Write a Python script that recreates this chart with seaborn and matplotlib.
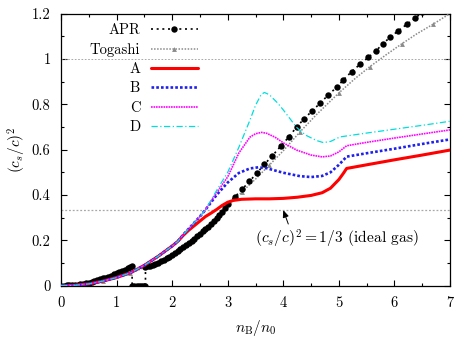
import matplotlib
matplotlib.use("Agg")
import matplotlib.pyplot as plt
from matplotlib.ticker import AutoMinorLocator, FixedLocator, FixedFormatter
import numpy as np
import pandas as pd
import seaborn as sns

# ---------------- data ----------------
apr_x = [0.00, 0.05, 0.10, 0.15, 0.20, 0.25, 0.30, 0.35, 0.40, 0.45, 0.50, 0.55, 0.60,
         0.65, 0.70, 0.75, 0.80, 0.85, 0.90, 0.95, 1.00, 1.05, 1.10, 1.15, 1.20, 1.25,
         1.28, 1.28, 1.32, 1.36, 1.40, 1.44, 1.48, 1.52, 1.52,
         1.56, 1.60, 1.65, 1.70, 1.75, 1.80, 1.85, 1.90, 1.95, 2.00, 2.05, 2.10, 2.15,
         2.20, 2.25, 2.30, 2.35, 2.40, 2.45, 2.50, 2.55, 2.60, 2.65, 2.70, 2.75, 2.80,
         2.85, 2.90, 2.95, 3.00, 3.13, 3.26, 3.39, 3.52, 3.66, 3.80, 3.95, 4.10, 4.24,
         4.38, 4.52, 4.66, 4.81, 4.96, 5.08, 5.23, 5.38, 5.53, 5.67, 5.79, 5.92, 6.07,
         6.22, 6.37, 6.50]
apr_y = [0.000, 0.000, 0.001, 0.001, 0.002, 0.003, 0.005, 0.006, 0.008, 0.011, 0.014, 0.017,
         0.020, 0.024, 0.028, 0.032, 0.036, 0.040, 0.045, 0.050, 0.055, 0.060, 0.066, 0.071,
         0.077, 0.083, 0.086, 0.000, 0.000, 0.000, 0.000, 0.000, 0.000, 0.000, 0.082,
         0.085, 0.088, 0.092, 0.097, 0.102, 0.108, 0.114, 0.120, 0.127, 0.135, 0.143, 0.152,
         0.161, 0.170, 0.179, 0.188, 0.197, 0.207, 0.217, 0.228, 0.239, 0.250, 0.261, 0.273,
         0.285, 0.297, 0.311, 0.327, 0.343, 0.360, 0.392, 0.425, 0.460, 0.495, 0.535, 0.572,
         0.614, 0.656, 0.700, 0.737, 0.771, 0.804, 0.841, 0.875, 0.907, 0.944, 0.976, 1.007,
         1.036, 1.066, 1.095, 1.124, 1.152, 1.179, 1.205]

tog_x = [0.00, 0.25, 0.50, 0.75, 1.00, 1.25, 1.50, 1.75, 2.00, 2.25, 2.50, 2.75, 3.00, 3.25,
         3.50, 3.75, 4.00, 4.30, 4.60, 5.00, 5.30, 5.56, 5.85, 6.13, 6.40, 6.69, 7.00]
tog_y = [0.000, 0.003, 0.009, 0.020, 0.035, 0.055, 0.080, 0.105, 0.135, 0.178, 0.228, 0.288,
         0.355, 0.412, 0.470, 0.532, 0.595, 0.678, 0.755, 0.850, 0.915, 0.966, 1.018, 1.066,
         1.110, 1.152, 1.200]

a_x = [0.00, 0.25, 0.50, 0.75, 1.00, 1.25, 1.50, 1.75, 2.00, 2.10, 2.20, 2.30, 2.40, 2.50,
       2.60, 2.70, 2.80, 2.90, 3.00, 3.10, 3.25, 3.50, 3.75, 4.00, 4.25, 4.50, 4.70, 4.85,
       5.00, 5.08, 5.14, 5.50, 6.00, 6.50, 7.00]
a_y = [0.000, 0.002, 0.008, 0.020, 0.036, 0.057, 0.090, 0.130, 0.175, 0.195, 0.222, 0.245,
       0.265, 0.285, 0.305, 0.320, 0.336, 0.354, 0.368, 0.376, 0.381, 0.383, 0.383, 0.385,
       0.390, 0.398, 0.410, 0.430, 0.468, 0.495, 0.517, 0.533, 0.555, 0.576, 0.598]

b_x = [0.00, 0.25, 0.50, 0.75, 1.00, 1.25, 1.50, 1.75, 2.00, 2.10, 2.20, 2.35, 2.50, 2.60,
       2.80, 3.00, 3.20, 3.40, 3.55, 3.70, 4.00, 4.30, 4.50, 4.70, 4.85, 5.00, 5.14, 5.50,
       6.00, 6.50, 7.00]
b_y = [0.000, 0.002, 0.008, 0.020, 0.036, 0.057, 0.090, 0.130, 0.175, 0.195, 0.225, 0.265,
       0.305, 0.335, 0.400, 0.455, 0.497, 0.517, 0.522, 0.518, 0.498, 0.483, 0.479, 0.484,
       0.500, 0.533, 0.569, 0.584, 0.604, 0.625, 0.645]

c_x = [0.00, 0.25, 0.50, 0.75, 1.00, 1.25, 1.50, 1.75, 2.00, 2.10, 2.20, 2.35, 2.50, 2.60,
       2.80, 3.00, 3.20, 3.40, 3.50, 3.61, 3.70, 3.85, 4.00, 4.24, 4.50, 4.70, 4.85, 5.00,
       5.14, 5.50, 6.00, 6.50, 7.00]
c_y = [0.000, 0.002, 0.008, 0.020, 0.036, 0.057, 0.090, 0.130, 0.175, 0.195, 0.225, 0.265,
       0.305, 0.335, 0.410, 0.480, 0.585, 0.655, 0.670, 0.676, 0.672, 0.655, 0.630, 0.598,
       0.576, 0.568, 0.572, 0.590, 0.617, 0.632, 0.651, 0.669, 0.687]

d_x = [0.00, 0.25, 0.50, 0.75, 1.00, 1.25, 1.50, 1.75, 2.00, 2.10, 2.20, 2.35, 2.50, 2.60,
       2.80, 3.00, 3.20, 3.40, 3.50, 3.60, 3.66, 3.75, 3.90, 4.00, 4.24, 4.40, 4.60, 4.72,
       4.85, 5.02, 5.50, 6.00, 6.50, 7.00]
d_y = [0.000, 0.002, 0.008, 0.020, 0.036, 0.057, 0.090, 0.130, 0.175, 0.195, 0.225, 0.265,
       0.305, 0.335, 0.420, 0.500, 0.610, 0.730, 0.795, 0.842, 0.852, 0.842, 0.805, 0.775,
       0.698, 0.664, 0.640, 0.631, 0.636, 0.656, 0.673, 0.690, 0.707, 0.725]

ideal_gas = 1.0 / 3.0
causal_limit = 1.0

x_ticks = [0, 1, 2, 3, 4, 5, 6, 7]
x_ticklabels = ["0", "1", "2", "3", "4", "5", "6", "7"]
y_ticks = [0, 0.2, 0.4, 0.6, 0.8, 1.0, 1.2]
y_ticklabels = ["0", "0.2", "0.4", "0.6", "0.8", "1", "1.2"]

# ---------------- style ----------------
sns.set_theme(style="ticks")
plt.rcParams["font.family"] = ["cmr10", "DejaVu Serif"]
plt.rcParams["mathtext.fontset"] = "cm"
plt.rcParams["axes.formatter.use_mathtext"] = True
plt.rcParams["axes.unicode_minus"] = False
plt.rcParams["legend.numpoints"] = 1
for k in ["text.color", "axes.labelcolor", "xtick.color", "ytick.color",
          "xtick.labelcolor", "ytick.labelcolor", "axes.edgecolor"]:
    plt.rcParams[k] = "black"

fig = plt.figure(figsize=(4.59, 3.38), dpi=100)
fig.patch.set_facecolor("white")
ax = fig.add_axes([0.1329, 0.1547, 0.8475, 0.8053])
ax.set_facecolor("white")

ax.axhline(causal_limit, color="#9a9a9a", lw=0.6, ls=(0, (2, 2)), zorder=1)
ax.axhline(ideal_gas, color="#a8a8a8", lw=0.9, ls=(0, (1.5, 1.5)), zorder=1)

sns.lineplot(x=apr_x, y=apr_y, sort=False, estimator=None, ax=ax, color="black",
             lw=1.2, linestyle=(0, (1.2, 2.2)), marker="o", markersize=4.6,
             markeredgewidth=0, label="APR", zorder=4)
sns.lineplot(x=tog_x, y=tog_y, sort=False, estimator=None, ax=ax, color="#8a8a8a",
             lw=1.1, linestyle=(0, (1, 1)), marker="^", markersize=3.5,
             markeredgewidth=0, markevery=(1, 2), label="Togashi", zorder=3)
sns.lineplot(x=a_x, y=a_y, sort=False, estimator=None, ax=ax, color="#ff0000",
             lw=2.2, linestyle="-", label="A", zorder=5)
sns.lineplot(x=b_x, y=b_y, sort=False, estimator=None, ax=ax, color="#1f1fee",
             lw=1.9, linestyle=(0, (1, 0.8)), label="B", zorder=5)
sns.lineplot(x=c_x, y=c_y, sort=False, estimator=None, ax=ax, color="#ff00ff",
             lw=1.2, linestyle=(0, (1, 0.5)), label="C", zorder=5)
sns.lineplot(x=d_x, y=d_y, sort=False, estimator=None, ax=ax, color="#00dede",
             lw=0.9, linestyle=(0, (5, 2, 1, 2)), label="D", zorder=5)

ax.set_xlim(0, 7)
ax.set_ylim(0, 1.2)
ax.xaxis.set_major_locator(FixedLocator(x_ticks))
ax.xaxis.set_major_formatter(FixedFormatter(x_ticklabels))
ax.yaxis.set_major_locator(FixedLocator(y_ticks))
ax.yaxis.set_major_formatter(FixedFormatter(y_ticklabels))
ax.xaxis.set_minor_locator(AutoMinorLocator(2))
ax.yaxis.set_minor_locator(AutoMinorLocator(2))
ax.tick_params(which="both", direction="in", top=True, right=True, colors="black",
               labelcolor="black", labelsize=10.5, width=0.8)
ax.tick_params(which="major", length=4.5, pad=7.5)
ax.tick_params(which="minor", length=2.5)
for s in ax.spines.values():
    s.set_color("black")
    s.set_linewidth(0.9)

ax.set_xlabel(r"$n_{\rm B}/n_0$", fontsize=11, labelpad=6, color="black")
ax.set_ylabel(r"$(c_s/c)^2$", fontsize=11, labelpad=3, color="black")

ax.annotate("", xy=(4.0, 0.333), xytext=(4.09, 0.272),
            arrowprops=dict(arrowstyle="-|>,head_length=0.35,head_width=0.15",
                            color="black", lw=0.7, shrinkA=0, shrinkB=0))
ax.text(4.96, 0.205, r"$(c_s/c)^2=1/3$ (ideal gas)", ha="center", va="center",
        fontsize=11.2, color="black")

leg = ax.legend(loc="upper right", bbox_to_anchor=(0.352, 0.963), markerfirst=False,
                frameon=False, handlelength=3.25, handletextpad=0.7, labelspacing=0.38,
                borderpad=0, borderaxespad=0, fontsize=10.5)
for t in leg.get_texts():
    t.set_color("black")

fig.savefig("out.png", dpi=100, facecolor="white")
